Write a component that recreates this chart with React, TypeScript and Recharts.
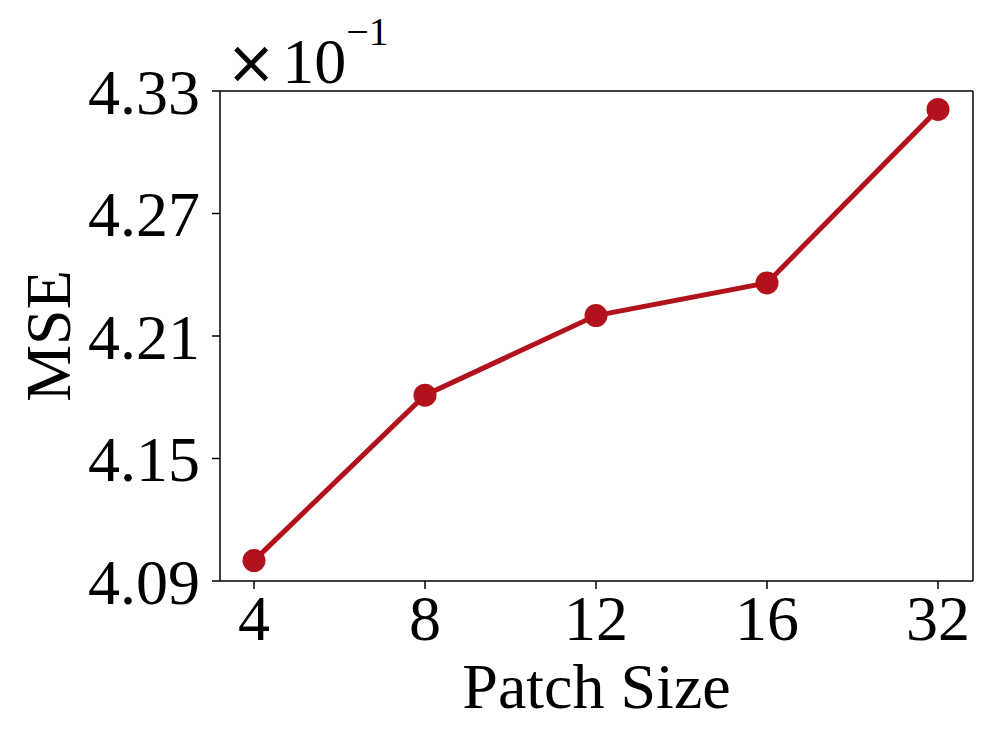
import React from 'react';
import { LineChart, Line, XAxis, YAxis } from 'recharts';

const patchSizes = ['4', '8', '12', '16', '32'];
const mseValues = [4.1, 4.181, 4.22, 4.236, 4.321];
const yTicks = [4.09, 4.15, 4.21, 4.27, 4.33];

const data = patchSizes.map((size, i) => ({ size, mse: mseValues[i] }));

const FONT = '"Liberation Serif", "Times New Roman", serif';
const RED = '#B2121B';

const XLabel = (props: any) => {
  const vb = props.viewBox || {};
  return (
    <text x={vb.x + vb.width / 2} y={vb.y + 127} textAnchor="middle" fontFamily={FONT} fontSize={64} fill="#000">
      Patch Size
    </text>
  );
};

const YLabel = (props: any) => {
  const vb = props.viewBox || {};
  const cx = vb.x + 70;
  const cy = vb.y + vb.height / 2;
  return (
    <g>
      <text x={cx} y={cy} transform={`rotate(-90, ${cx}, ${cy})`} textAnchor="middle" fontFamily={FONT} fontSize={64} fill="#000">
        MSE
      </text>
      <text x={vb.x + vb.width + 6} y={vb.y - 8} fontFamily={FONT} fontSize={64} fill="#000">
        <tspan fontFamily="DejaVu Sans" fontSize={60}>×</tspan>
        <tspan dx={6}>10</tspan>
        <tspan fontSize={40} dy={-38}>−1</tspan>
      </text>
    </g>
  );
};

export default function App() {
  return (
    <div style={{ margin: -8, width: 996, height: 747, background: '#fff' }}>
      <LineChart width={996} height={747} data={data} margin={{ top: 90, right: 22, bottom: 0, left: 0 }}>
        <XAxis
          dataKey="size"
          type="category"
          padding={{ left: 34, right: 35 }}
          height={166}
          tickSize={8}
          tickMargin={6}
          stroke="#000"
          strokeWidth={1.5}
          tick={{ fontFamily: FONT, fontSize: 64, fill: '#000' }}
          label={<XLabel />}
        />
        <XAxis xAxisId="top" orientation="top" dataKey="size" height={1} tick={false} tickLine={false} stroke="#000" strokeWidth={1.5} />
        <YAxis
          type="number"
          domain={[4.09, 4.33]}
          ticks={yTicks}
          width={220}
          tickSize={8}
          tickMargin={12}
          stroke="#000"
          strokeWidth={1.5}
          allowDataOverflow
          tickFormatter={(v: number) => v.toFixed(2)}
          tick={{ fontFamily: FONT, fontSize: 64, fill: '#000' }}
          label={<YLabel />}
        />
        <YAxis yAxisId="right" orientation="right" width={1} domain={[0, 1]} tick={false} tickLine={false} stroke="#000" strokeWidth={1.5} />
        <Line
          dataKey="mse"
          stroke={RED}
          strokeWidth={5}
          dot={{ r: 11.5, fill: RED, stroke: 'none' }}
          activeDot={false}
          isAnimationActive={false}
        />
      </LineChart>
    </div>
  );
}
